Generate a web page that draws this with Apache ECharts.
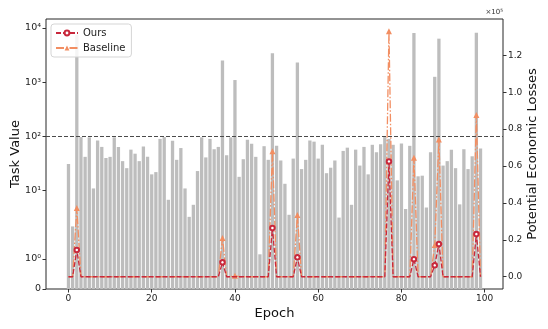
<!DOCTYPE html>
<html>
<head>
<meta charset="utf-8">
<script src="https://cdn.jsdelivr.net/npm/echarts@6/dist/echarts.min.js"></script>
<style>
  html, body { margin: 0; padding: 0; background: #fff; }
  #main { width: 548px; height: 329px; }
</style>
</head>
<body>
<div id="main"></div>
<script>
// epochs 0..99
var epochs = [0, 1, 2, 3, 4, 5, 6, 7, 8, 9, 10, 11, 12, 13, 14, 15, 16, 17, 18, 19,
  20, 21, 22, 23, 24, 25, 26, 27, 28, 29, 30, 31, 32, 33, 34, 35, 36, 37, 38, 39,
  40, 41, 42, 43, 44, 45, 46, 47, 48, 49, 50, 51, 52, 53, 54, 55, 56, 57, 58, 59,
  60, 61, 62, 63, 64, 65, 66, 67, 68, 69, 70, 71, 72, 73, 74, 75, 76, 77, 78, 79,
  80, 81, 82, 83, 84, 85, 86, 87, 88, 89, 90, 91, 92, 93, 94, 95, 96, 97, 98, 99];

// task value per epoch (left axis, symlog)
var taskValue = [31, 2.2, 7400, 97, 42, 96, 11, 84, 64, 40,
  42, 96, 64, 35, 26, 57, 48, 35, 65, 42,
  20, 22, 90, 97, 6.8, 83, 37, 61, 11, 3.3,
  5.5, 23, 96, 41, 90, 58, 64, 2500, 45, 96,
  1090, 18, 38, 87, 73, 42, 1.15, 66, 37, 3400,
  67, 36, 13.4, 3.6, 39, 2300, 25, 37, 84, 80,
  39, 70, 21, 26.5, 36, 3.2, 54, 62, 5.5, 57,
  29, 64, 20, 70, 51, 72, 97, 90, 70, 15.5,
  74, 4.6, 67, 8000, 18.4, 18.9, 4.9, 51, 1250, 6300,
  29, 35, 57, 26, 5.6, 58, 25, 43, 8100, 60];

// potential economic losses (right axis)
var oursLoss = [0, 0, 14500, 0, 0, 0, 0, 0, 0, 0,
  0, 0, 0, 0, 0, 0, 0, 0, 0, 0,
  0, 0, 0, 0, 0, 0, 0, 0, 0, 0,
  0, 0, 0, 0, 0, 0, 0, 7800, 0, 0,
  0, 0, 0, 0, 0, 0, 0, 0, 0, 26400,
  0, 0, 0, 0, 0, 10500, 0, 0, 0, 0,
  0, 0, 0, 0, 0, 0, 0, 0, 0, 0,
  0, 0, 0, 0, 0, 0, 0, 62500, 0, 0,
  0, 0, 0, 9500, 0, 0, 0, 0, 6200, 17700,
  0, 0, 0, 0, 0, 0, 0, 0, 23100, 0];

var baselineLoss = [0, 0, 37200, 0, 0, 0, 0, 0, 0, 0,
  0, 0, 0, 0, 0, 0, 0, 0, 0, 0,
  0, 0, 0, 0, 0, 0, 0, 0, 0, 0,
  0, 0, 0, 0, 0, 0, 0, 21000, 0, 0,
  500, 0, 0, 0, 0, 0, 0, 0, 0, 68000,
  0, 0, 0, 0, 0, 33400, 0, 0, 0, 0,
  0, 0, 0, 0, 0, 0, 0, 0, 0, 0,
  0, 0, 0, 0, 0, 0, 0, 133000, 0, 0,
  0, 0, 0, 64500, 0, 0, 0, 0, 17200, 74300,
  0, 0, 0, 0, 0, 0, 0, 0, 87600, 0];

var xTicks = [0, 20, 40, 60, 80, 100];
var yTickValues = [0, 1, 10, 100, 1000, 10000];
var yTickLabels = ['0', '10\u2070', '10\u00b9', '10\u00b2', '10\u00b3', '10\u2074'];
var lossTicks = [0, 20000, 40000, 60000, 80000, 100000, 120000];
var dashLevel = 100;

// matplotlib-like symlog, linthresh 2, linscale 1
function symlog(v) {
  var lt = 2, adj = 1 / (1 - 1 / 10);
  if (Math.abs(v) <= lt) return v * adj;
  return Math.sign(v) * lt * (adj + Math.log10(Math.abs(v) / lt));
}

function lineData(arr) {
  return epochs.map(function (e, i) {
    var item = { value: [e, arr[i]] };
    if (arr[i] === 0) item.symbol = 'none';
    return item;
  });
}

var font = 'DejaVu Sans';
var chart = echarts.init(document.getElementById('main'), null, { renderer: 'canvas' });

var option = {
  animation: false,
  textStyle: { fontFamily: font },
  grid: {
    left: 46, right: 45, top: 19, bottom: 40,
    containLabel: false, outerBoundsMode: 'none',
    show: true, borderColor: '#262626', borderWidth: 1
  },
  legend: {
    data: ['Ours', 'Baseline'],
    orient: 'vertical',
    left: 51, top: 24,
    itemWidth: 22, itemHeight: 6, itemGap: 5,
    padding: [4, 6, 4, 4],
    borderColor: '#d5d5d5', borderWidth: 1, borderRadius: 3,
    backgroundColor: 'rgba(255,255,255,0.85)',
    textStyle: { fontSize: 10, color: '#222', fontFamily: font }
  },
  graphic: [{
    type: 'text', right: 45, top: 9,
    style: { text: '\u00d710\u2075', fontSize: 7, fill: '#333', fontFamily: font }
  }],
  xAxis: {
    type: 'value', min: -5.4, max: 104.4,
    name: 'Epoch', nameLocation: 'middle', nameGap: 18, nameMoveOverlap: false,
    nameTextStyle: { fontSize: 13, color: '#111', fontFamily: font },
    axisLine: { show: false, onZero: false },
    axisTick: { show: true, length: 3.5, lineStyle: { color: '#333' }, customValues: xTicks },
    axisLabel: { customValues: xTicks, fontSize: 9, color: '#222', margin: 5 },
    splitLine: { show: false }
  },
  yAxis: [{
    type: 'value', min: 0, max: symlog(14500),
    name: 'Task Value', nameLocation: 'middle', nameGap: 24, nameRotate: 90, nameMoveOverlap: false,
    nameTextStyle: { fontSize: 13, color: '#111', fontFamily: font },
    axisLine: { show: false, onZero: false },
    axisTick: { show: true, length: 3.5, lineStyle: { color: '#333' }, customValues: yTickValues.map(symlog) },
    axisLabel: {
      customValues: yTickValues.map(symlog), fontSize: 9.5, color: '#222', margin: 5,
      formatter: function (val) {
        for (var i = 0; i < yTickValues.length; i++) {
          if (Math.abs(symlog(yTickValues[i]) - val) < 1e-6) return yTickLabels[i];
        }
        return '';
      }
    },
    splitLine: { show: false }
  }, {
    type: 'value', position: 'right', min: -6650, max: 139650,
    name: 'Potential Economic Losses', nameLocation: 'middle', nameGap: 23, nameRotate: 90, nameMoveOverlap: false,
    nameTextStyle: { fontSize: 13, color: '#111', fontFamily: font },
    axisLine: { show: false, onZero: false },
    axisTick: { show: true, length: 3.5, lineStyle: { color: '#333' }, customValues: lossTicks },
    axisLabel: {
      customValues: lossTicks, fontSize: 9, color: '#222', margin: 5,
      formatter: function (v) { return (v / 1e5).toFixed(1); }
    },
    splitLine: { show: false }
  }],
  series: [{
    name: 'Task Value',
    type: 'bar',
    yAxisIndex: 0,
    barWidth: 3.3,
    itemStyle: { color: '#bdbdbd' },
    data: epochs.map(function (e, i) { return [e, symlog(taskValue[i])]; }),
    markLine: {
      silent: true, symbol: 'none', label: { show: false },
      lineStyle: { color: '#4a4a4a', type: [4, 2], width: 1.2 },
      data: [{ yAxis: symlog(dashLevel) }]
    }
  }, {
    name: 'Ours',
    type: 'line',
    yAxisIndex: 1,
    z: 4,
    symbol: 'emptyCircle', symbolSize: 4.5, showAllSymbol: true,
    lineStyle: { color: '#c8283c', width: 1.3, type: [5, 2] },
    itemStyle: { color: '#c8283c', borderWidth: 1.1 },
    data: lineData(oursLoss)
  }, {
    name: 'Baseline',
    type: 'line',
    yAxisIndex: 1,
    z: 3,
    symbol: 'triangle', symbolSize: 6, showAllSymbol: true,
    lineStyle: { color: '#f28e62', width: 1.3, type: [8, 2, 1.5, 2] },
    itemStyle: { color: '#f28e62' },
    data: lineData(baselineLoss)
  }]
};
chart.setOption(option);
</script>
</body>
</html>
